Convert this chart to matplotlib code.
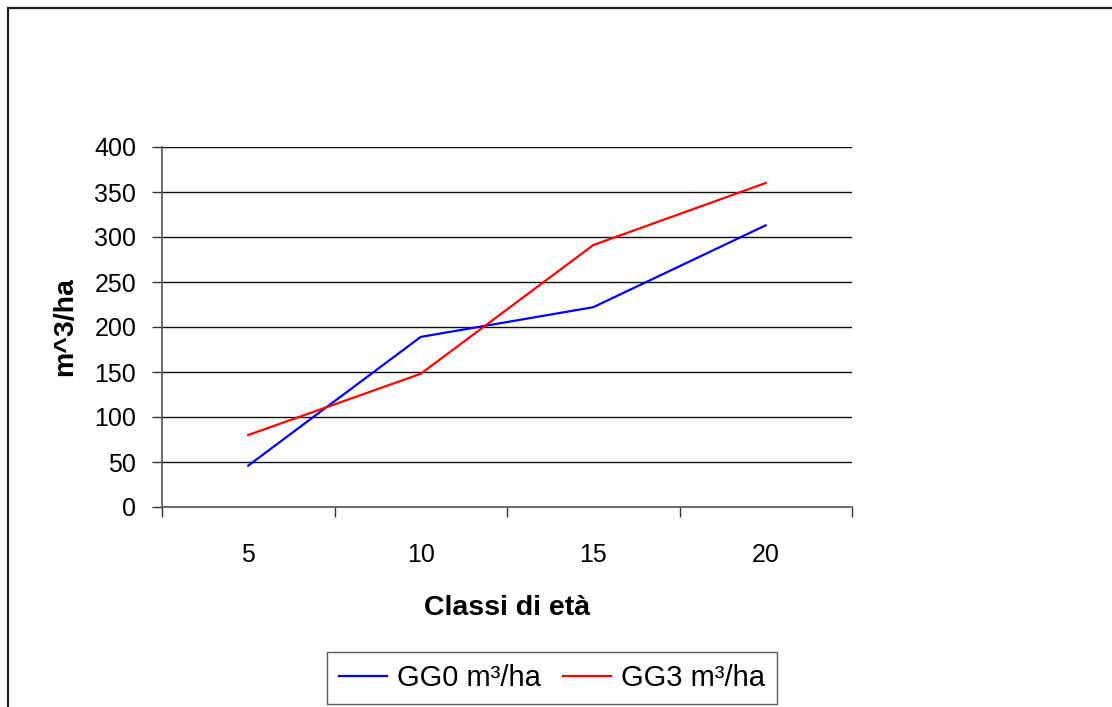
import matplotlib
matplotlib.use("Agg")
import matplotlib.pyplot as plt
from matplotlib.patches import Rectangle

plt.rcParams['font.family'] = ['Liberation Sans', 'DejaVu Sans']

# Volume per hectare by age class
categories = ["5", "10", "15", "20"]
gg0 = [46, 189, 222, 313]
gg3 = [80, 148, 291, 360]
series_labels = ["GG0 m³/ha", "GG3 m³/ha"]
y_ticks = [0, 50, 100, 150, 200, 250, 300, 350, 400]

W, H = 1112, 707
fig = plt.figure(figsize=(W / 100, H / 100), dpi=100)

# chart frame (top and left edges visible)
fig.patches.append(Rectangle((8 / W, -0.1), 1.2, 1 - 8 / H + 0.1,
                             transform=fig.transFigure, fill=False,
                             edgecolor="#222222", linewidth=1.6, zorder=0))

ax = fig.add_axes([162 / W, 200 / H, (852 - 162) / W, (507 - 147) / H])

x = list(range(len(categories)))
ax.plot(x, gg0, color="#0000FF", linewidth=1.6, label=series_labels[0], zorder=3)
ax.plot(x, gg3, color="#FF0000", linewidth=1.6, label=series_labels[1], zorder=3)

ax.set_xlim(-0.5, len(categories) - 0.5)
ax.set_ylim(0, 400)
ax.set_yticks(y_ticks)
ax.set_yticklabels([str(v) for v in y_ticks], fontsize=18)

# category labels centred, tick marks on the boundaries
ax.set_xticks(x)
ax.set_xticklabels(categories, fontsize=18)
ax.tick_params(axis="x", which="major", length=0, pad=26)
ax.set_xticks([i - 0.5 for i in range(len(categories) + 1)], minor=True)
ax.tick_params(axis="x", which="minor", length=7.5, width=1.0, color="#333333",
               direction="out")
ax.tick_params(axis="y", length=7.5, width=1.0, color="#333333",
               direction="out", pad=11)

ax.grid(axis="y", color="#111111", linewidth=1.0, zorder=1)
ax.set_axisbelow(True)

for s in ("top", "right"):
    ax.spines[s].set_visible(False)
for s in ("left", "bottom"):
    ax.spines[s].set_color("#555555")
    ax.spines[s].set_linewidth(1.2)

ax.set_xlabel("Classi di età", fontsize=20.5, fontweight="bold", labelpad=20)
ax.set_ylabel("m^3/ha", fontsize=20.5, fontweight="bold", labelpad=12)

leg = ax.legend(loc="center", bbox_to_anchor=(552 / W, 1 - 678 / H),
                bbox_transform=fig.transFigure, ncol=2, fontsize=21,
                frameon=True, fancybox=False, edgecolor="#333333",
                handlelength=1.65, handletextpad=0.35, columnspacing=0.75,
                borderpad=0.4, borderaxespad=0)
leg.get_frame().set_linewidth(1.0)

fig.savefig("out.png", dpi=100)
